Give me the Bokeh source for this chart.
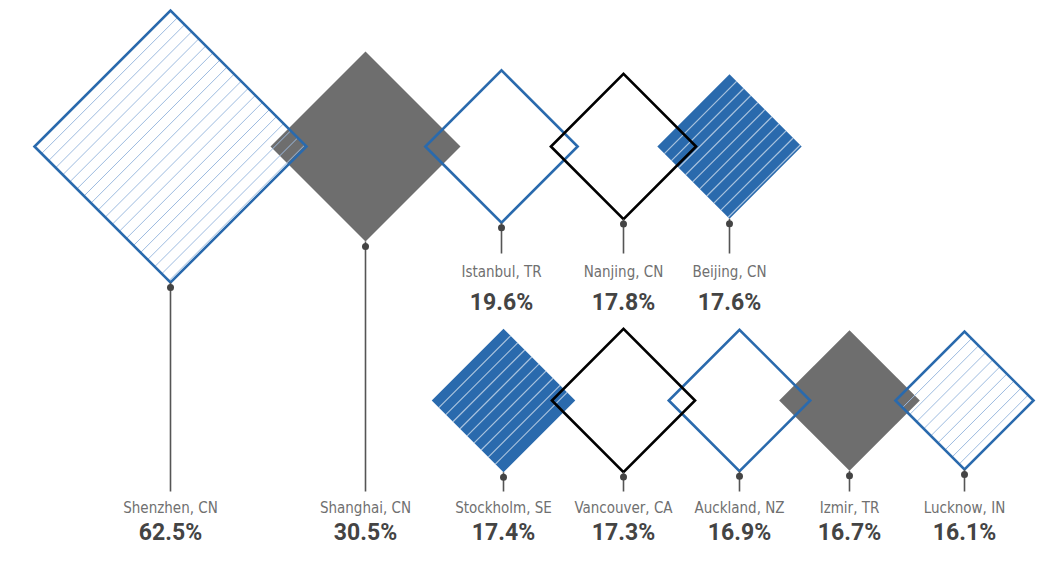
import math
from bokeh.plotting import figure
from bokeh.models import Range1d, ColumnDataSource
from bokeh.embed import file_html
from bokeh.resources import INLINE
from bokeh.core.properties import value

# ---------------- data ----------------
cities = ["Shenzhen, CN", "Shanghai, CN", "Istanbul, TR", "Nanjing, CN", "Beijing, CN",
          "Stockholm, SE", "Vancouver, CA", "Auckland, NZ", "Izmir, TR", "Lucknow, IN"]
shares = [62.5, 30.5, 19.6, 17.8, 17.6, 17.4, 17.3, 16.9, 16.7, 16.1]
value_labels = [f"{v:.1f}%" for v in shares]

# ---------------- layout (pixels) ----------------
W, H = 1036, 545
centre_x = [170, 365, 501, 623, 729, 503, 623, 739, 849, 964]
shape_row = [0, 0, 0, 0, 0, 1, 1, 1, 1, 1]
label_row = [1, 1, 0, 0, 0, 1, 1, 1, 1, 1]
row_cy = [146, 400]
name_y = [271, 507]
val_y = [302, 532]
stem_end = [253, 491]
largest_half = 136
hatch_gap = 10
styles = ["hatch", "gray", "blue_line", "black_line", "blue_fill",
          "blue_fill", "black_line", "blue_line", "gray", "hatch"]

BLUE = "#2a6aad"
LIGHT_BLUE = "#9dbbe0"
GRAY = "#6e6e6e"
STEM = "#555555"

k = largest_half / math.sqrt(max(shares))
half = [k * math.sqrt(v) for v in shares]
cy = [row_cy[r] for r in shape_row]

p = figure(width=W, height=H, x_range=Range1d(0, W), y_range=Range1d(H, 0),
           output_backend="svg", toolbar_location=None, min_border=0)
p.axis.visible = False
p.grid.visible = False
p.outline_line_color = None
p.background_fill_color = "white"


def diamond(i):
    x, y, r = centre_x[i], cy[i], half[i]
    return [x - r, x, x + r, x], [y, y + r, y, y - r]


# fills
for st, col in (("gray", GRAY), ("blue_fill", BLUE)):
    xs, ys = [], []
    for i, s in enumerate(styles):
        if s == st:
            a, b = diamond(i)
            xs.append(a)
            ys.append(b)
    p.patches(xs, ys, fill_color=col, line_color=None)

# hatches
for st, col, alpha, w in (("hatch", LIGHT_BLUE, 1.0, 1.0), ("blue_fill", "white", 0.6, 1.2)):
    x0, y0, x1, y1 = [], [], [], []
    for i, s in enumerate(styles):
        if s != st:
            continue
        x, y, r = centre_x[i], cy[i], half[i]
        L = (x - r, y); B = (x, y + r); T = (x, y - r); R = (x + r, y)
        side = r * math.sqrt(2)
        n = 1
        while n * hatch_gap < side - 2:
            t = n * hatch_gap / side
            x0.append(L[0] + t * (B[0] - L[0])); y0.append(L[1] + t * (B[1] - L[1]))
            x1.append(T[0] + t * (R[0] - T[0])); y1.append(T[1] + t * (R[1] - T[1]))
            n += 1
    p.segment(x0, y0, x1, y1, line_color=col, line_alpha=alpha, line_width=w)

# outlines
for st, col in (("hatch", BLUE), ("blue_line", BLUE), ("black_line", "black")):
    xs, ys = [], []
    for i, s in enumerate(styles):
        if s == st:
            a, b = diamond(i)
            xs.append(a)
            ys.append(b)
    p.patches(xs, ys, fill_color=None, line_color=col, line_width=2.6, line_join="miter")

# stems
bottoms = [cy[i] + half[i] for i in range(len(shares))]
ends = [stem_end[label_row[i]] for i in range(len(shares))]
p.segment(centre_x, bottoms, centre_x, ends, line_color=STEM, line_width=1.6)
p.scatter(centre_x, [b + 5 for b in bottoms], size=7, marker="circle",
          fill_color="#444444", line_color=None)

# labels
src = ColumnDataSource(dict(
    x=centre_x,
    ny=[name_y[r] for r in label_row],
    vy=[val_y[r] for r in label_row],
    name=cities,
    val=value_labels,
))
p.text(x="x", y="ny", text="name", source=src, text_align="center", text_baseline="middle",
       text_font=value("DejaVu Sans Condensed"), text_font_size="15px", text_color="#707070")
p.text(x="x", y="vy", text="val", source=src, text_align="center", text_baseline="middle",
       text_font=value("Roboto"), text_font_style="bold", text_font_size="23px",
       text_color="#444444")

open("out.html", "w").write(file_html(p, INLINE))
